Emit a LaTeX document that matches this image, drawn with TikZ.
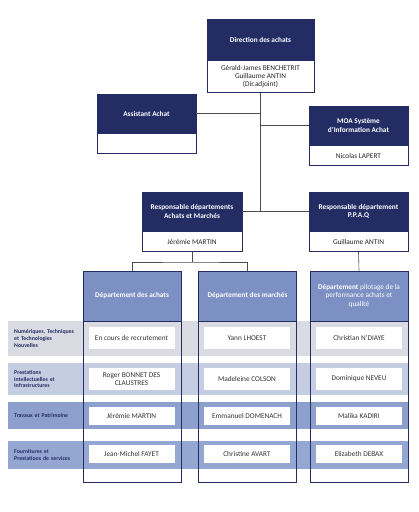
\documentclass[tikz,border=0pt]{standalone}
\usepackage{fontspec}
\setmainfont{Carlito}
\usetikzlibrary{positioning}
\definecolor{navy}{RGB}{35,45,100}
\definecolor{deptblue}{RGB}{125,144,195}
\definecolor{bandgray}{RGB}{218,219,226}
\definecolor{bandlight}{RGB}{197,205,226}
\definecolor{bandmid}{RGB}{141,159,204}
\definecolor{bandblue}{RGB}{148,167,211}

\begin{document}
\begin{tikzpicture}[
    x = 1pt, y = -1pt,
      head/.style={draw=navy, fill=navy, text=white, rectangle, inner sep=0pt, line width=0.8pt, align=center, font=\bfseries\fontsize{7.3}{8.3}\selectfont},
      body/.style={draw=navy, fill=white, text=black!85, rectangle, inner sep=0pt, line width=0.8pt, align=center, font=\fontsize{7.3}{8}\selectfont},
      depthead/.style={draw=navy, fill=deptblue, text=white, rectangle, inner sep=0pt, line width=0.8pt, minimum width=98pt, minimum height=50pt, align=center, font=\fontsize{7.3}{8.3}\selectfont},
      deptcol/.style={draw=navy, rectangle, inner sep=0pt, line width=0.9pt, minimum width=98pt, minimum height=211pt},
      band/.style={rectangle, inner sep=0pt, minimum width=400pt},
      bandlabel/.style={anchor=west, inner sep=0pt, text width=72pt, align=left, text=navy, font=\bfseries\fontsize{5.8}{6.8}\selectfont},
      person/.style={fill=white, rectangle, inner sep=0pt, minimum width=86pt, text=black!80, align=center, font=\fontsize{7.3}{8.3}\selectfont},
      link/.style={draw=black!70, line width=0.6pt}
  ]
      \useasboundingbox (0, 0) rectangle (419, 512);

      % Direction des achats
      \node (dirhead) at (260.5, 39.5) [head, minimum width=107pt, minimum height=41pt] {Direction des achats};
      \node (dirbody) [body, below=0pt of dirhead, minimum width=107pt, minimum height=32pt] {Gérald-James BENCHETRIT\\Guillaume ANTIN\\(Dir.adjoint)};

      % Assistant Achat
      \node (asshead) at (146.5, 113.5) [head, minimum width=99pt, minimum height=39pt] {Assistant Achat};
      \node (assbody) [body, below=0pt of asshead, minimum width=99pt, minimum height=20pt] {};

      % MOA
      \node (moahead) at (358.5, 125.5) [head, minimum width=99pt, minimum height=39pt] {MOA Système\\d'Information Achat};
      \node (moabody) [body, below=0pt of moahead, minimum width=99pt, minimum height=20pt] {Nicolas LAPERT};

      % Responsables
      \node (resp1head) at (192, 211.5) [head, minimum width=100pt, minimum height=39pt] {Responsable départements\\Achats et Marchés};
      \node (resp1body) [body, below=0pt of resp1head, minimum width=100pt, minimum height=20pt] {Jérémie MARTIN};
      \node (resp2head) at (358.5, 211.5) [head, minimum width=99pt, minimum height=39pt] {Responsable département\\P.P.A.Q};
      \node (resp2body) [body, below=0pt of resp2head, minimum width=99pt, minimum height=20pt] {Guillaume ANTIN};

      % Bands
      \node (band1) at (208, 338.5) [band, fill=bandgray, minimum height=35pt] {};
      \node (band2) at (208, 379) [band, fill=bandlight, minimum height=32pt] {};
      \node (band3) at (208, 415.5) [band, fill=bandmid, minimum height=27pt] {};
      \node (band4) at (208, 455) [band, fill=bandblue, minimum height=28pt] {};

      \node (label1) at (14, 338.5) [bandlabel] {Numériques, Techniques\\et Technologies\\Nouvelles};
      \node (label2) at (14, 379) [bandlabel] {Prestations\\intellectuelles et\\Infrastructures};
      \node (label3) at (14, 415.5) [bandlabel] {Travaux et Patrimoine};
      \node (label4) at (14, 455) [bandlabel] {Fournitures et\\Prestations de services};

      % Departments
      \node (col1head) at (132, 296) [depthead] {\bfseries Département des achats};
      \node (col2head) at (247.5, 296) [depthead] {\bfseries Département des marchés};
      \node (col3head) at (359, 296) [depthead] {\textbf{Département} pilotage de la\\performance achats et\\qualité};

      % People
      \node (p11) at (131.5, 338) [person, minimum height=22pt] {En cours de recrutement};
      \node (p12) at (247, 338) [person, minimum height=22pt] {Yann LHOEST};
      \node (p13) at (359, 338) [person, minimum height=22pt] {Christian N'DIAYE};
      \node (p21) at (131.5, 379) [person, minimum height=22pt] {Roger BONNET DES\\CLAUSTRES};
      \node (p22) at (247, 379) [person, minimum height=22pt] {Madeleine COLSON};
      \node (p23) at (359, 379) [person, minimum height=22pt] {Dominique NEVEU};
      \node (p31) at (131.5, 416) [person, minimum height=18pt] {Jérémie MARTIN};
      \node (p32) at (247, 416) [person, minimum height=18pt] {Emmanuel DOMENACH};
      \node (p33) at (359, 416) [person, minimum height=18pt] {Malika KADIRI};
      \node (p41) at (131.5, 454) [person, minimum height=18pt] {Jean-Michel FAYET};
      \node (p42) at (247, 454) [person, minimum height=18pt] {Christine AVART};
      \node (p43) at (359, 454) [person, minimum height=18pt] {Elizabeth DEBAX};

      % Column frames
      \node (col1) at (132, 376.5) [deptcol] {};
      \node (col2) at (247.5, 376.5) [deptcol] {};
      \node (col3) at (359, 376.5) [deptcol] {};

      % Links
      \coordinate (fork) at (resp1body.south |- 0, 262);
      \draw[link] (dirbody.south) -- (dirbody.south |- resp1head.east);
      \draw[link] (asshead.east) -- (asshead.east -| dirbody.south);
      \draw[link] (moahead.west) -- (moahead.west -| dirbody.south);
      \draw[link] (resp1head.east) -- (resp2head.west);
      \draw[link] (resp1body.south) -- (fork);
      \draw[link] (col1head.north) |- (fork) -| (col2head.north);
      \draw[link] (resp2body.south) -- (col3head.north);
  \end{tikzpicture}
\end{document}
